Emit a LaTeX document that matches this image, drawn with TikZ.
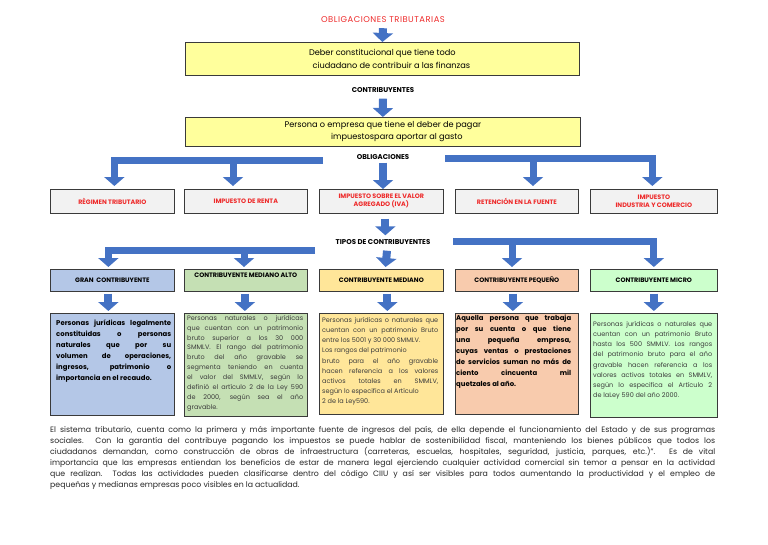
\documentclass[tikz,border=0pt]{standalone}
\usepackage{fontspec}
\setmainfont{Poppins}
\usetikzlibrary{arrows.meta}
\definecolor{azul}{HTML}{4472C4}
\definecolor{rojo}{HTML}{EE2A2A}
\definecolor{amarillo}{HTML}{FFFF9C}
\definecolor{gris}{HTML}{F2F2F2}
\definecolor{borde}{HTML}{3A3A3A}
\definecolor{cgran}{HTML}{B4C7E7}
\definecolor{calto}{HTML}{C5E0B4}
\definecolor{cmed}{HTML}{FFE699}
\definecolor{cpeq}{HTML}{F8CBAD}
\definecolor{cmic}{HTML}{CCFFCC}
\definecolor{letra}{HTML}{3C3C3C}

\begin{document}
\begin{tikzpicture}[x=1pt,y=-1pt]
\tikzset{every node/.append style={inner sep=0pt}}
\tikzset{caja/.style={draw=borde, line width=0.7pt, anchor=north west},
  fila/.style={caja, minimum width=124pt, minimum height=24pt},
  tarjeta/.style={caja, minimum width=124pt, minimum height=101pt},
  flecha/.style={draw=azul, line width=8pt, -{Triangle[width=20pt,length=9pt]}},
  barra/.style={flecha, line width=7pt, line join=miter, shorten >=3pt},
  titulo/.style={font=\bfseries\fontsize{7}{8}\selectfont},
  rotulo/.style={font=\bfseries\fontsize{6.4}{8}\selectfont, text=rojo, align=center},
  tipo/.style={font=\bfseries\fontsize{6.4}{8}\selectfont},
  texto/.style={anchor=north west, text width=116pt, align=justify, text=letra,
    font=\fontsize{6.5}{10.2}\selectfont},
  negrita/.style={anchor=north west, text width=115pt, align=justify,
    font=\bfseries\fontsize{6.9}{11}\selectfont}}
\useasboundingbox (0,0) rectangle (768,544);

\node[text=rojo, font=\fontsize{8.4}{9}\selectfont\addfontfeatures{LetterSpace=6}] (obligtrib) at (383,20) {OBLIGACIONES TRIBUTARIAS};
\node[caja, fill=amarillo, minimum width=394pt, minimum height=33pt, align=center,
  font=\fontsize{8.2}{12.5}\selectfont] (deber) at (185,42) {Deber constitucional que tiene todo\\\hspace*{18pt}ciudadano de contribuir a las finanzas};
\node[titulo] (contrib) at (383,90) {CONTRIBUYENTES};
\node[caja, fill=amarillo, minimum width=395pt, minimum height=29pt, align=center,
  font=\fontsize{8.2}{12}\selectfont] (persona) at (185,117) {Persona o empresa que tiene el deber de pagar\\\hspace*{28pt}impuestospara aportar al gasto};
\node[titulo] (oblig) at (383,157) {OBLIGACIONES};

\draw[flecha] ([yshift=-5pt]obligtrib.south) -- (deber.north);
\draw[flecha] ([yshift=-6pt]contrib.south) -- (persona.north);
\draw[flecha] ([yshift=-3pt]oblig.south) -- ([yshift=-3pt]oblig.south |- 0,186);

\node[fila, fill=gris, rotulo] (regimen) at (50,189) {RÈGIMEN TRIBUTARIO};
\node[fila, fill=gris, rotulo, minimum width=123pt] (renta) at (184,189) {IMPUESTO DE RENTA};
\node[fila, fill=gris, rotulo] (iva) at (319,189) {IMPUESTO SOBRE EL VALOR\\AGREGADO (IVA)};
\node[fila, fill=gris, rotulo, minimum width=123pt] (retencion) at (455,189) {RETENCIÓN EN LA FUENTE};
\node[fila, fill=gris, rotulo, minimum width=127pt] (industria) at (590,189) {IMPUESTO\\INDUSTRIA Y COMERCIO};

\coordinate (oi) at (323,160.5);
\coordinate (oi2) at (233,160.5);
\coordinate (od) at (445,158.5);
\coordinate (od2) at (533,158.5);
\draw[barra] (oi) -| ([xshift=2pt]regimen.north);
\draw[barra] (oi2) -- (oi2 |- renta.north);
\draw[barra] (od) -| ([xshift=-1.5pt]industria.north);
\draw[barra] (od2) -- (od2 |- retencion.north);

\node[titulo] (tipos) at (383,242) {TIPOS DE CONTRIBUYENTES};
\draw[flecha, shorten >=4pt] ([xshift=4pt,yshift=-5pt]iva.south) -- ([xshift=4pt]iva.south |- tipos.north);

\node[fila, fill=cgran, tipo, minimum height=22pt] (gran) at (50,269) {GRAN\ \ CONTRIBUYENTE};
\node[fila, fill=calto, minimum width=123pt, minimum height=22pt] (alto) at (184,269) {};
\node[tipo, anchor=north] (altotxt) at ([yshift=-3.5pt]alto.north) {CONTRIBUYENTE MEDIANO ALTO};
\node[fila, fill=cmed, tipo, minimum height=22pt] (mediano) at (319,269) {CONTRIBUYENTE MEDIANO};
\node[fila, fill=cpeq, tipo, minimum width=123pt, minimum height=22pt] (pequeno) at (455,269) {CONTRIBUYENTE PEQUEÑO};
\node[fila, fill=cmic, tipo, minimum width=127pt, minimum height=22pt] (micro) at (590,269) {CONTRIBUYENTE MICRO};

\draw[flecha, shorten >=2pt] ([xshift=4pt,yshift=-6pt]tipos.south) -- ([xshift=4pt]mediano.north);
\coordinate (ti) at (315,250);
\coordinate (ti2) at (244,250);
\coordinate (td) at (453,241);
\coordinate (td2) at (512,241);
\draw[barra, shorten >=2pt] (ti) -| ([xshift=-4pt]gran.north);
\draw[barra, shorten >=2pt] (ti2) -- (ti2 |- alto.north);
\draw[barra, shorten >=2pt] (td) -| (micro.north);
\draw[barra, shorten >=2pt] (td2) -- (td2 |- pequeno.north);

\node[tarjeta, fill=cgran, minimum height=102pt] (gran3) at (50,313) {};
\node[tarjeta, fill=calto, minimum width=123pt, minimum height=103pt] (alto3) at (184,313) {};
\node[tarjeta, fill=cmed] (mediano3) at (319,313) {};
\node[tarjeta, fill=cpeq, minimum width=123pt] (pequeno3) at (455,313) {};
\node[tarjeta, fill=cmic, minimum width=127pt, minimum height=104pt] (micro3) at (590,313) {};

\draw[flecha, shorten >=2pt] ([xshift=-4pt,yshift=-2pt]gran.south) -- ([xshift=-4pt]gran3.north);
\draw[flecha, shorten >=2pt] ([xshift=-1pt,yshift=-2pt]alto.south) -- ([xshift=-1pt]alto3.north);
\draw[flecha, shorten >=2pt] ([xshift=6pt,yshift=-2pt]mediano.south) -- ([xshift=6pt]mediano3.north);
\draw[flecha, shorten >=2pt] ([xshift=-4pt,yshift=-2pt]pequeno.south) -- ([xshift=-4pt]pequeno3.north);
\draw[flecha, shorten >=2pt] ([yshift=-2pt]micro.south) -- (micro3.north);

\node[negrita] (tgran) at ([xshift=6pt,yshift=-7pt]gran3.north west) {Personas jurídicas legalmente\linebreak constituidas o personas\linebreak naturales que por su\linebreak volumen de operaciones,\linebreak ingresos, patrimonio o\linebreak importancia en el recaudo.};
\node[texto, font=\fontsize{6.5}{9.9}\selectfont] (talto) at ([xshift=3pt,yshift=-2pt]alto3.north west) {Personas naturales o jurídicas\linebreak que cuentan con un patrimonio\linebreak bruto superior a los 30 000\linebreak SMMLV. El rango del patrimonio\linebreak bruto del año gravable se\linebreak segmenta teniendo en cuenta\linebreak el valor del SMMLV, según lo\linebreak definió el artículo 2 de la Ley 590\linebreak de 2000, según sea el año\linebreak gravable.};
\node[texto] (tmediano) at ([xshift=3pt,yshift=-4pt]mediano3.north west) {Personas jurídicas o naturales que\linebreak cuentan con un patrimonio Bruto\linebreak entre los 5001 y 30 000 SMMLV.\newline Los rangos del patrimonio\newline bruto para el año gravable\linebreak hacen referencia a los valores\linebreak activos totales en SMMLV,\linebreak según lo especifica el Artículo\newline 2 de la Ley590.};
\node[negrita] (tpequeno) at ([xshift=1pt,yshift=-2pt]pequeno3.north west) {Aquella persona que trabaja\linebreak por su cuenta o que tiene\linebreak una pequeña empresa,\linebreak cuyas ventas o prestaciones\linebreak de servicios suman no más de\linebreak ciento cincuenta mil\linebreak quetzales al año.};
\node[texto, text width=119pt] (tmicro) at ([xshift=3pt,yshift=-8pt]micro3.north west) {Personas jurídicas o naturales que\linebreak cuentan con un patrimonio Bruto\linebreak hasta los 500 SMMLV. Los rangos\linebreak del patrimonio bruto para el año\linebreak gravable hacen referencia a los\linebreak valores activos totales en SMMLV,\linebreak según lo especifica el Artículo 2\linebreak de laLey 590 del año 2000.};

\node[anchor=north west, text width=665pt, align=justify, text=black!85,
  font=\fontsize{7.8}{11}\selectfont] (resumen) at (50,426) {El sistema tributario, cuenta como la primera y más importante fuente de ingresos del país, de ella depende el funcionamiento del Estado y de sus programas\linebreak sociales. Con la garantía del contribuye pagando los impuestos se puede hablar de sostenibilidad fiscal, manteniendo los bienes públicos que todos los\linebreak ciudadanos demandan, como construcción de obras de infraestructura (carreteras, escuelas, hospitales, seguridad, justicia, parques, etc.)”. Es de vital\linebreak importancia que las empresas entiendan los beneficios de estar de manera legal ejerciendo cualquier actividad comercial sin temor a pensar en la actividad\linebreak que realizan.\ \ Todas las actividades pueden clasificarse dentro del código CIIU y así ser visibles para todos aumentando la productividad y el empleo de\linebreak pequeñas y medianas empresas poco visibles en la actualidad.};
\end{tikzpicture}
\end{document}
